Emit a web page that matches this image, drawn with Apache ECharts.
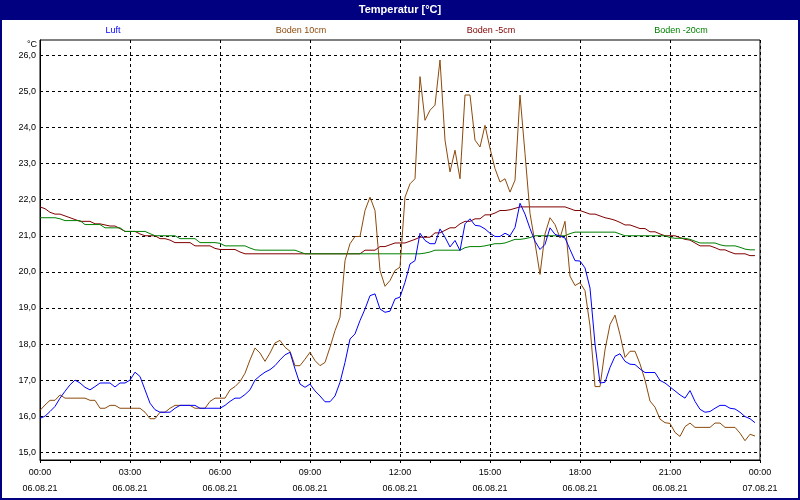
<!DOCTYPE html>
<html><head><meta charset="utf-8">
<script src="https://cdn.jsdelivr.net/npm/echarts@6/dist/echarts.min.js"></script>
<style>html,body{margin:0;padding:0;background:#fff}#c{width:800px;height:500px}</style>
</head><body><div id="c"></div>
<script>
// ---- data ----
const chartTitle = 'Temperatur [°C]';
const unitLabel = '°C';
const seriesNames = ['Luft', 'Boden 10cm', 'Boden -5cm', 'Boden -20cm'];
const stepMinutes = 10; // sampling interval of the logger
const yTickValues = [15, 16, 17, 18, 19, 20, 21, 22, 23, 24, 25, 26];
const startDate = '06.08.21';
const endDate = '07.08.21';

const luft = [15.94,16.0,16.13,16.27,16.5,16.69,16.87,17.0,16.92,16.8,
16.73,16.82,16.92,16.92,16.92,16.81,16.92,16.92,17.0,17.22,
17.1,16.73,16.36,16.18,16.11,16.11,16.11,16.22,16.3,16.3,
16.3,16.3,16.22,16.22,16.22,16.22,16.22,16.3,16.41,16.5,
16.5,16.6,16.73,17.0,17.12,17.22,17.29,17.4,17.56,17.7,
17.77,17.31,16.89,16.8,16.89,16.7,16.56,16.4,16.4,16.56,
16.94,17.49,18.14,18.28,18.65,18.97,19.34,19.39,18.97,18.88,
18.91,19.25,19.3,19.71,20.22,20.31,21.07,20.87,20.78,20.78,
21.19,20.96,20.69,20.87,20.59,21.33,21.47,21.29,21.27,21.19,
21.07,20.98,20.98,21.07,21.0,21.23,21.9,21.6,21.2,20.85,
20.62,20.76,21.22,21.04,20.99,20.94,20.62,20.31,20.3,20.11,
19.55,18.0,16.92,16.94,17.35,17.66,17.73,17.52,17.44,17.43,
17.31,17.21,17.21,17.21,16.99,16.92,16.81,16.7,16.59,16.5,
16.71,16.41,16.19,16.11,16.13,16.22,16.3,16.3,16.22,16.2,
16.11,15.99,15.93,15.82];

const boden10 = [16.16,16.31,16.44,16.44,16.59,16.5,16.5,16.5,16.5,16.5,
16.44,16.44,16.22,16.22,16.3,16.3,16.22,16.22,16.22,16.22,
16.22,16.11,15.93,15.93,16.11,16.11,16.22,16.3,16.3,16.3,
16.3,16.22,16.22,16.22,16.41,16.5,16.5,16.5,16.73,16.82,
16.96,17.19,17.56,17.89,17.75,17.52,17.75,18.03,18.1,17.91,
17.8,17.4,17.4,17.58,17.77,17.54,17.4,17.49,17.91,18.37,
18.74,20.31,20.78,20.98,20.98,21.7,22.07,21.7,20.04,19.6,
19.76,20.04,20.13,22.07,22.44,22.58,25.41,24.2,24.48,24.62,
25.87,23.65,22.77,23.37,22.58,24.9,24.9,23.65,23.46,24.06,
23.42,22.86,22.49,22.58,22.21,22.54,24.9,23.28,21.62,20.8,
19.93,21.05,21.5,21.31,20.94,21.4,19.88,19.62,19.7,19.48,
18.5,16.82,16.82,17.84,18.54,18.8,18.26,17.63,17.8,17.8,
17.45,17.0,16.42,16.25,15.92,15.82,15.8,15.55,15.44,15.71,
15.81,15.69,15.69,15.69,15.69,15.81,15.81,15.69,15.69,15.69,
15.53,15.32,15.5,15.45];

const boden5 = [21.8,21.75,21.65,21.6,21.6,21.55,21.5,21.45,21.4,21.4,
21.4,21.33,21.33,21.3,21.27,21.27,21.2,21.12,21.12,21.12,
21.05,21.0,21.0,21.0,20.92,20.92,20.88,20.81,20.81,20.81,
20.81,20.72,20.72,20.72,20.72,20.65,20.62,20.62,20.62,20.62,
20.55,20.5,20.5,20.5,20.5,20.5,20.5,20.5,20.5,20.5,
20.5,20.5,20.5,20.5,20.5,20.5,20.5,20.5,20.5,20.5,
20.5,20.5,20.5,20.5,20.5,20.6,20.6,20.6,20.7,20.7,
20.75,20.8,20.8,20.8,20.85,20.9,20.96,20.96,20.96,21.08,
21.08,21.15,21.22,21.22,21.33,21.4,21.4,21.47,21.47,21.58,
21.58,21.63,21.7,21.7,21.72,21.76,21.8,21.8,21.8,21.8,
21.8,21.8,21.8,21.8,21.8,21.8,21.75,21.7,21.7,21.65,
21.6,21.6,21.55,21.5,21.47,21.43,21.37,21.3,21.3,21.25,
21.2,21.2,21.11,21.11,21.05,21.0,21.0,21.0,20.95,20.9,
20.88,20.8,20.72,20.72,20.72,20.67,20.61,20.61,20.55,20.5,
20.5,20.5,20.45,20.45];

const boden20 = [21.5,21.5,21.5,21.5,21.47,21.42,21.42,21.42,21.42,21.31,
21.31,21.31,21.31,21.22,21.22,21.22,21.22,21.12,21.12,21.12,
21.12,21.12,21.06,21.0,21.0,21.0,21.0,21.0,20.92,20.92,
20.92,20.92,20.81,20.81,20.81,20.81,20.79,20.72,20.72,20.72,
20.72,20.72,20.66,20.61,20.6,20.6,20.6,20.6,20.6,20.6,
20.6,20.6,20.55,20.5,20.5,20.5,20.5,20.5,20.5,20.5,
20.5,20.5,20.5,20.5,20.5,20.5,20.5,20.5,20.5,20.5,
20.5,20.5,20.5,20.5,20.5,20.5,20.5,20.52,20.55,20.6,
20.6,20.6,20.6,20.6,20.6,20.67,20.7,20.7,20.7,20.72,
20.75,20.78,20.78,20.8,20.85,20.9,20.9,20.92,20.95,21.0,
21.0,21.0,21.0,21.0,21.0,21.0,21.06,21.1,21.1,21.1,
21.1,21.1,21.1,21.1,21.1,21.1,21.05,21.0,21.0,21.0,
21.0,21.0,21.0,21.0,21.0,21.0,20.95,20.93,20.93,20.93,
20.9,20.85,20.8,20.8,20.8,20.8,20.75,20.72,20.72,20.72,
20.68,20.63,20.61,20.61];

// ---- styling ----
const colors = {
  'Luft': '#0000ff',
  'Boden 10cm': '#8c4a0c',
  'Boden -5cm': '#800000',
  'Boden -20cm': '#008000'
};
const FONT = '"Liberation Sans", Arial, sans-serif';
const navy = '#000080';

function pairs(arr) { return arr.map((v, i) => [i * stepMinutes, v]); }
function pad(n) { return (n < 10 ? '0' : '') + n; }

const chart = echarts.init(document.getElementById('c'), null, { renderer: 'canvas' });

const seriesData = {
  'Luft': luft, 'Boden 10cm': boden10, 'Boden -5cm': boden5, 'Boden -20cm': boden20
};
const drawOrder = ['Boden -5cm', 'Boden -20cm', 'Boden 10cm', 'Luft'];

const legendCenters = [113, 301, 491, 681];

chart.setOption({
  animation: false,
  backgroundColor: '#ffffff',
  grid: { left: 40, right: 40, top: 40, bottom: 40, show: true, borderColor: '#000', borderWidth: 1, containLabel: false },
  xAxis: {
    type: 'value', min: 0, max: 1440, interval: 180,
    axisLine: { show: true, lineStyle: { color: '#000', width: 1 } },
    axisTick: { show: true, length: 3, lineStyle: { color: '#000' } },
    minorTick: { show: true, splitNumber: 3, length: 3, lineStyle: { color: '#000' } },
    splitLine: { show: true, lineStyle: { color: '#000', type: [3, 3], width: 1 } },
    axisLabel: {
      color: '#000', fontFamily: FONT, fontSize: 9, lineHeight: 16, margin: 5,
      formatter: v => pad(Math.floor(v / 60) % 24) + ':' + pad(v % 60) + '\n' + (v >= 1440 ? endDate : startDate)
    }
  },
  yAxis: {
    type: 'value', min: 14.786, max: 26.425,
    axisLine: { show: true, lineStyle: { color: '#000', width: 1 } },
    axisTick: { show: false, customValues: yTickValues },
    splitLine: { show: true, lineStyle: { color: '#000', type: [3, 3], width: 1 } },
    axisLabel: {
      customValues: yTickValues,
      color: '#000', fontFamily: FONT, fontSize: 9, margin: 4,
      formatter: v => v.toFixed(1).replace('.', ',')
    }
  },
  series: drawOrder.map(name => ({
    name, type: 'line', data: pairs(seriesData[name]),
    showSymbol: false, symbol: 'none', smooth: false,
    lineStyle: { color: colors[name], width: 1 },
    itemStyle: { color: colors[name] },
    z: 2
  })),
  graphic: [
    { type: 'rect', left: 0, top: 0, shape: { width: 800, height: 20 }, style: { fill: navy }, z: 10 },
    { type: 'text', x: 400, y: 10, style: { text: chartTitle, fill: '#fff', font: 'bold 11px ' + FONT, align: 'center', verticalAlign: 'middle' }, z: 11 },
    { type: 'rect', shape: { x: 1, y: 1, width: 798, height: 498 }, style: { fill: 'none', stroke: navy, lineWidth: 2 }, z: 12 },
    { type: 'text', x: 37, y: 44.5, style: { text: unitLabel, fill: '#000', font: '9px ' + FONT, align: 'right', verticalAlign: 'middle' }, z: 11 }
  ].concat(seriesNames.map((n, i) => ({
    type: 'text', x: legendCenters[i], y: 31,
    style: { text: n, fill: colors[n], font: '9px ' + FONT, align: 'center', verticalAlign: 'middle' }, z: 11
  })))
});
</script>
</body></html>
